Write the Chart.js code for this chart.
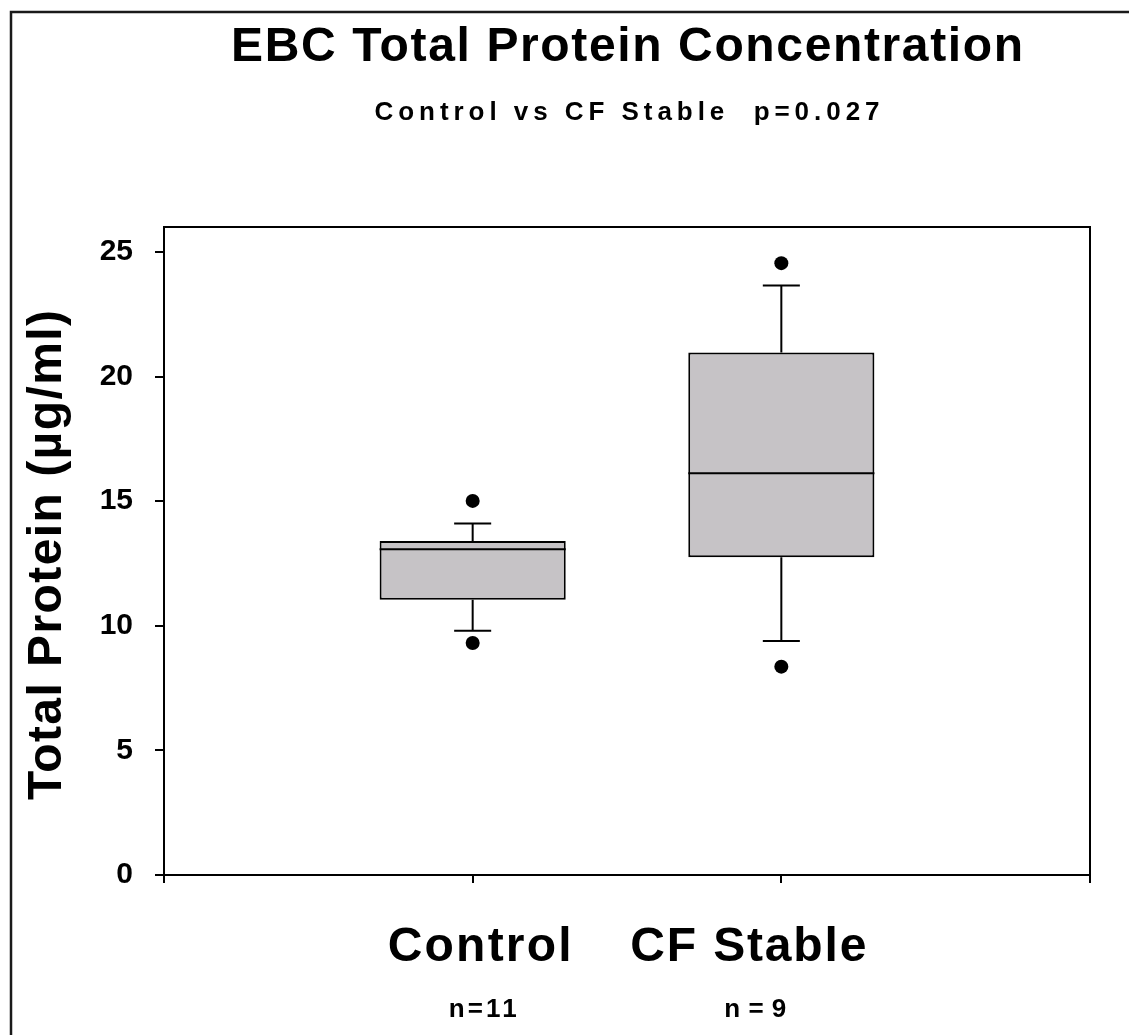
<!DOCTYPE html>
<html><head><meta charset="utf-8">
<script src="https://cdn.jsdelivr.net/npm/chart.js@4/dist/chart.umd.min.js"></script>
<style>html,body{margin:0;padding:0;background:#fff;overflow:hidden}canvas{display:block}</style>
</head><body>
<canvas id="c" width="1129" height="1035"></canvas>
<script>
// ---- data ----
const categories = ['Control', 'CF Stable'];
const sampleSizes = ['n=11', 'n=9'];
const lowerWhisker = [9.80, 9.39];
const q1 = [11.04, 12.75];
const median = [13.07, 16.12];
const q3 = [13.40, 20.96];
const upperWhisker = [14.10, 23.65];
const outliers = [[9.31, 15.01], [8.36, 24.55]];
const yTicks = [0, 5, 10, 15, 20, 25];
const titleText = 'EBC Total Protein Concentration';
const subtitleText = 'Control vs CF Stable  p=0.027';
const yTitleText = 'Total Protein (µg/ml)';

// ---- styling / layout ----
const FONT = '"Liberation Sans", Arial, Helvetica, sans-serif';
const BOX_FRACTION = 0.603;   // box width as fraction of category spacing
const CAP_HALF = 0.06;        // whisker cap half-width in x units
const boxFill = '#c6c3c6';

const xs = categories.map((_, i) => i + 1);

const boxData = xs.map((x, i) => ({ x: x, y: [q1[i], q3[i]] }));

const lineData = [];
xs.forEach((x, i) => {
  const h = BOX_FRACTION / 2;
  const segs = [
    [[x, lowerWhisker[i]], [x, q1[i]]],
    [[x, q3[i]], [x, upperWhisker[i]]],
    [[x - CAP_HALF, lowerWhisker[i]], [x + CAP_HALF, lowerWhisker[i]]],
    [[x - CAP_HALF, upperWhisker[i]], [x + CAP_HALF, upperWhisker[i]]],
    [[x - h, median[i]], [x + h, median[i]]]
  ];
  segs.forEach(s => {
    lineData.push({ x: s[0][0], y: s[0][1] });
    lineData.push({ x: s[1][0], y: s[1][1] });
    lineData.push({ x: s[1][0], y: null });
  });
});

const outlierData = [];
xs.forEach((x, i) => outliers[i].forEach(v => outlierData.push({ x: x, y: v })));

function drawFitted(ctx, text, cx, cy, font, width, rot) {
  ctx.save();
  ctx.font = font;
  ctx.letterSpacing = '0px';
  const w0 = ctx.measureText(text).width;
  const ls = (width - w0) / Math.max(1, text.length - 1);
  ctx.letterSpacing = ls + 'px';
  ctx.fillStyle = '#000';
  ctx.textAlign = 'left';
  ctx.textBaseline = 'middle';
  ctx.translate(cx, cy);
  if (rot) ctx.rotate(rot);
  ctx.fillText(text, -width / 2, 0);
  ctx.restore();
}

const decorPlugin = {
  id: 'decor',
  beforeDraw(chart) {
    const ctx = chart.ctx;
    ctx.save();
    ctx.fillStyle = '#fff';
    ctx.fillRect(0, 0, chart.width, chart.height);
    ctx.strokeStyle = '#1a1a1a';
    ctx.lineWidth = 2.5;
    ctx.beginPath();
    ctx.moveTo(11, chart.height);
    ctx.lineTo(11, 12);
    ctx.lineTo(chart.width, 12);
    ctx.stroke();
    ctx.restore();
  },
  afterDraw(chart) {
    const ctx = chart.ctx;
    const a = chart.chartArea;
    const xScale = chart.scales.x;
    ctx.save();
    ctx.strokeStyle = '#000';
    ctx.lineWidth = 2;
    ctx.strokeRect(Math.round(a.left), Math.round(a.top), Math.round(a.right - a.left), Math.round(a.bottom - a.top));
    ctx.restore();

    drawFitted(ctx, titleText, 627, 48, 'bold 48px ' + FONT, 792);
    drawFitted(ctx, subtitleText, 627, 113, 'bold 26px ' + FONT, 505);
    drawFitted(ctx, yTitleText, 48, 555, 'bold 48px ' + FONT, 490, -Math.PI / 2);

    const labelShift = [7, -33];
    const labelWidth = [184, 236];
    const nShift = [10, -26];
    const nWidth = [68, 62];
    categories.forEach((c, i) => {
      const px = xScale.getPixelForValue(xs[i]);
      drawFitted(ctx, c, px + labelShift[i], 948, 'bold 48px ' + FONT, labelWidth[i]);
      drawFitted(ctx, sampleSizes[i], px + nShift[i], 1010, 'bold 26px ' + FONT, nWidth[i]);
    });
  }
};

new Chart(document.getElementById('c'), {
  type: 'bar',
  data: {
    datasets: [
      {
        type: 'bar', label: 'IQR', data: boxData, order: 3,
        backgroundColor: boxFill, borderColor: '#000', borderWidth: 2,
        borderSkipped: false, barPercentage: BOX_FRACTION, categoryPercentage: 1
      },
      {
        type: 'line', label: 'whiskers', data: lineData, order: 2,
        borderColor: '#000', borderWidth: 2, pointRadius: 0, spanGaps: false,
        fill: false, tension: 0
      },
      {
        type: 'scatter', label: 'outliers', data: outlierData, order: 1,
        pointRadius: 7, backgroundColor: '#000', borderWidth: 0, pointHoverRadius: 7
      }
    ]
  },
  options: {
    responsive: false,
    animation: false,
    devicePixelRatio: 1,
    layout: { padding: { top: 227, right: 39, left: 0, bottom: 0 } },
    plugins: { legend: { display: false }, tooltip: { enabled: false }, title: { display: false } },
    scales: {
      x: {
        type: 'linear', min: 0, max: 3, offset: false,
        grid: { offset: false, drawOnChartArea: false, drawTicks: true, tickLength: 8, color: '#000', lineWidth: 2 },
        border: { display: true, color: '#000', width: 2 },
        ticks: { stepSize: 1, autoSkip: false, callback: () => '' },
        afterFit: s => { s.height = 160; }
      },
      y: {
        type: 'linear', min: 0, max: 26,
        afterBuildTicks: s => { s.ticks = yTicks.map(v => ({ value: v })); },
        grid: { drawOnChartArea: false, drawTicks: true, tickLength: 9, color: '#000', lineWidth: 2 },
        border: { display: true, color: '#000', width: 2 },
        ticks: { color: '#000', padding: 22, font: { family: FONT, size: 30, weight: 'bold' } },
        afterFit: s => { s.width = 164; }
      }
    }
  },
  plugins: [decorPlugin]
});
</script>
</body></html>
